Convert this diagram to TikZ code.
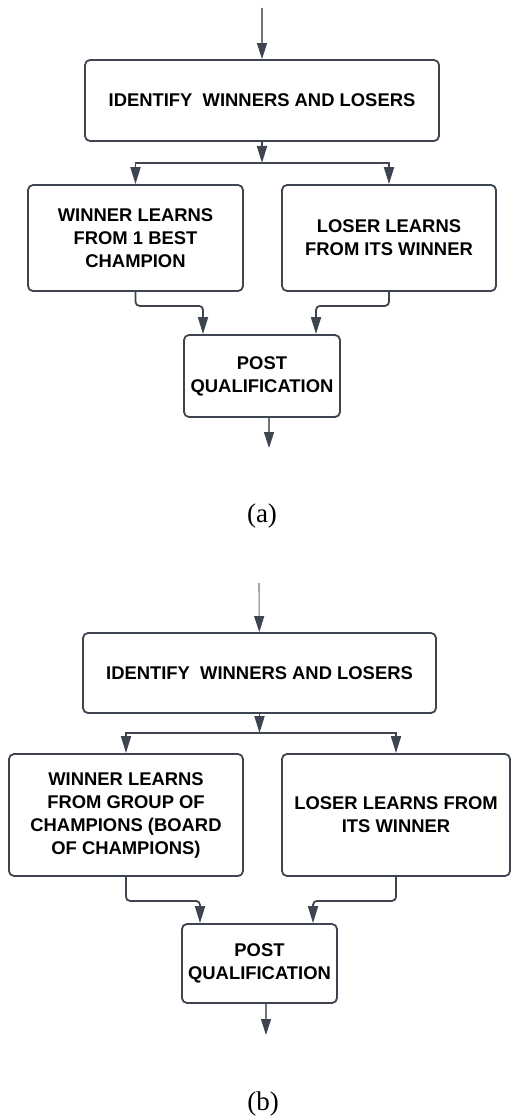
\documentclass[tikz,border=0pt]{standalone}
\usepackage{fontspec}
\setmainfont{Liberation Sans}
\newfontfamily\capfont{Liberation Serif}
\usetikzlibrary{arrows.meta, positioning}
\definecolor{edgegray}{RGB}{62,68,80}
\definecolor{feedgray}{RGB}{112,116,124}

\begin{document}
\begin{tikzpicture}[x=1pt,y=1pt,
      font=\fontsize{18.4}{23}\selectfont\bfseries,
      box/.style={draw=edgegray,line width=1.8pt,rounded corners=5pt,
                  align=center,inner sep=0pt},
      link/.style={edgegray,line width=1.8pt,-{Triangle[length=17pt,width=10pt]}},
      merge/.style={link,rounded corners=4pt},
      feed/.style={feedgray,line width=1.1pt,
                   -{Triangle[length=16pt,width=10pt,color=edgegray]}},
      sublabel/.style={font=\capfont\fontsize{27}{32}\selectfont}]
    \useasboundingbox (0,0) rectangle (512,-1118);

    % (a) one best champion
    \node[box,minimum width=354pt,minimum height=81pt] (identA) at (262,-100.5)
      {IDENTIFY\ \ WINNERS AND LOSERS};
    \node[box,minimum width=215pt,minimum height=106pt] (winA) at (135.5,-238)
      {WINNER LEARNS\\FROM 1 BEST\\CHAMPION};
    \node[box,minimum width=214pt,minimum height=106pt] (loseA) at (389,-238)
      {LOSER LEARNS\\FROM ITS WINNER};
    \node[box,minimum width=156pt,minimum height=82pt] (postA) at (262,-376)
      {POST\\QUALIFICATION};
    \node[sublabel] (labelA) at (262,-516) {(a)};
    \coordinate (inA) at (262,-8);
    \coordinate (splitA) at (262,-163);
    \coordinate (outA) at (269,-448);
    \draw[feed] (inA) -- (identA);
    \draw[link] (identA) -- (splitA);
    \draw[link] (splitA) -| (winA);
    \draw[link] (splitA) -| (loseA);
    \draw[merge] (winA.south) -- ++(0,-14) -| ([xshift=-59pt]postA.north);
    \draw[merge] (loseA.south) -- ++(0,-14) -| ([xshift=54pt]postA.north);
    \draw[feed] ([xshift=7pt]postA.south) -- (outA);

    % (b) board of champions
    \node[box,minimum width=353pt,minimum height=80pt] (identB) at (259.5,-673)
      {IDENTIFY\ \ WINNERS AND LOSERS};
    \node[box,minimum width=234pt,minimum height=122pt] (winB) at (126,-815)
      {WINNER LEARNS\\FROM GROUP OF\\CHAMPIONS (BOARD\\OF CHAMPIONS)};
    \node[box,minimum width=228pt,minimum height=122pt] (loseB) at (396,-815)
      {LOSER LEARNS FROM\\ITS WINNER};
    \node[box,minimum width=155pt,minimum height=79pt] (postB) at (259.5,-963.5)
      {POST\\QUALIFICATION};
    \node[sublabel] (labelB) at (263,-1104) {(b)};
    \coordinate (inB) at (259,-583);
    \coordinate (splitB) at (259.5,-733);
    \coordinate (outB) at (266,-1035);
    \draw[feed] (inB) -- (identB);
    \draw[link] (identB) -- (splitB);
    \draw[link] (splitB) -| (winB);
    \draw[link] (splitB) -| (loseB);
    \draw[merge] (winB.south) -- ++(0,-24) -| ([xshift=-59.5pt]postB.north);
    \draw[merge] (loseB.south) -- ++(0,-24) -| ([xshift=53.5pt]postB.north);
    \draw[feed] ([xshift=6.5pt]postB.south) -- (outB);
  \end{tikzpicture}
\end{document}
